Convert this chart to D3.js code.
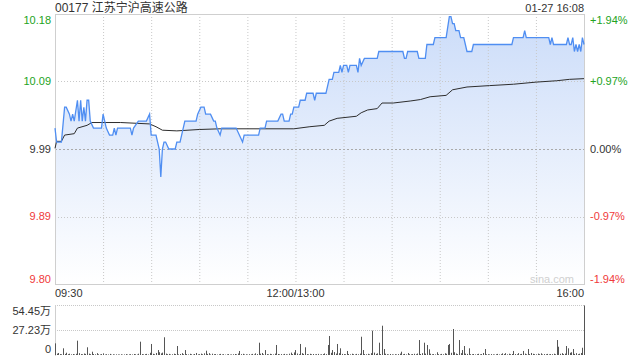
<!DOCTYPE html>
<html>
<head>
<meta charset="utf-8">
<script src="https://cdn.jsdelivr.net/npm/d3@7"></script>
<style>
    body { margin: 0; background: #fff; }
    text { font-family: Arial, "Liberation Sans", "Noto Sans CJK SC", sans-serif; }
</style>
</head>
<body>
<div id="container"></div>
<script>
// ---- data ----
const title = "00177 江苏宁沪高速公路";
const stamp = "01-27 16:08";
const prevClose = 9.99;
const pctRange = 1.94;

const priceTicks = ["10.18", "10.09", "9.99", "9.89", "9.80"];
const pctTicks = [1.94, 0.97, 0, -0.97, -1.94];
const pctLabels = ["+1.94%", "+0.97%", "0.00%", "-0.97%", "-1.94%"];
const timeLabels = ["09:30", "12:00/13:00", "16:00"];
const timeMinutes = [0, 150, 330];
const volTicks = ["54.45万", "27.23万", "0"];
const volMax = 54.45;

// price line vertices (minute from open, price)
const priceMin = [0, 1, 4, 6, 7, 9, 10, 11, 12, 14, 15, 16, 17, 18, 19, 20, 21, 22, 24, 29,
    30, 32, 34, 36, 37, 38, 39, 47, 48, 49, 52, 57, 59, 60, 63, 65, 66, 67, 68, 69,
    71, 75, 76, 78, 79, 81, 88, 89, 91, 93, 94, 97, 99, 100, 101, 103, 104, 113, 115, 117,
    118, 127, 128, 131, 132, 139, 141, 142, 143, 146, 147, 148, 149, 152, 153, 156, 157, 161, 162, 163,
    169, 171, 173, 174, 177, 178, 179, 180, 182, 183, 184, 188, 189, 190, 191, 193, 201, 202, 217, 218,
    219, 220, 226, 227, 231, 232, 236, 237, 244, 246, 247, 248, 249, 250, 252, 253, 255, 256, 257, 260,
    261, 285, 286, 292, 293, 294, 308, 309, 310, 311, 319, 320, 321, 322, 323, 324, 325, 326, 327, 328,
    329, 330];
const priceVal = [10.02, 10.00, 10.00, 10.05, 10.05, 10.04, 10.03, 10.04, 10.03, 10.06, 10.03, 10.06, 10.03, 10.05, 10.03, 10.06, 10.06, 10.03, 10.02, 10.02,
    10.04, 10.02, 10.01, 10.01, 10.02, 10.01, 10.02, 10.02, 10.01, 10.02, 10.03, 10.03, 10.04, 10.01, 10.01, 9.99, 9.95, 9.99, 10.00, 10.00,
    9.99, 9.99, 10.00, 10.00, 10.01, 10.03, 10.03, 10.04, 10.05, 10.05, 10.04, 10.04, 10.03, 10.03, 10.02, 10.01, 10.02, 10.02, 10.01, 10.00,
    10.01, 10.01, 10.02, 10.02, 10.03, 10.03, 10.04, 10.04, 10.03, 10.03, 10.04, 10.04, 10.05, 10.05, 10.06, 10.06, 10.07, 10.07, 10.06, 10.07,
    10.07, 10.09, 10.09, 10.10, 10.10, 10.11, 10.10, 10.11, 10.11, 10.10, 10.11, 10.11, 10.10, 10.12, 10.11, 10.12, 10.12, 10.13, 10.13, 10.12,
    10.12, 10.13, 10.13, 10.12, 10.12, 10.14, 10.14, 10.15, 10.15, 10.18, 10.18, 10.17, 10.17, 10.16, 10.16, 10.15, 10.15, 10.14, 10.13, 10.13,
    10.14, 10.14, 10.15, 10.15, 10.16, 10.15, 10.15, 10.14, 10.15, 10.14, 10.14, 10.15, 10.14, 10.14, 10.15, 10.13, 10.14, 10.13, 10.14, 10.13,
    10.15, 10.14];

// average price line vertices
const avgMin = [0, 1, 4, 6, 12, 14, 20, 23, 41, 59, 63, 67, 76, 90, 103, 149, 159, 168, 171, 176,
    188, 191, 195, 201, 204, 211, 222, 228, 234, 244, 248, 257, 271, 286, 300, 313, 321, 330];
const avgVal = [9.991, 10.001, 10.001, 10.010, 10.012, 10.020, 10.024, 10.028, 10.028, 10.026, 10.022, 10.017, 10.016, 10.018, 10.019, 10.019, 10.022, 10.024, 10.030, 10.034,
    10.037, 10.042, 10.046, 10.048, 10.056, 10.056, 10.059, 10.061, 10.065, 10.067, 10.075, 10.079, 10.081, 10.083, 10.086, 10.088, 10.090, 10.091];

// volume per minute, in 万 shares
const volume = [
    12.7, 1.5, 2.2, 1.0, 0.8, 7.3, 1.2, 2.5, 0.9, 1.4,
    0.7, 1.1, 0.6, 1.3, 15.6, 2.0, 1.0, 0.8, 1.6, 1.2,
    8.4, 1.5, 0.9, 3.6, 1.1, 0.7, 2.0, 0.8, 0.6, 1.0,
    1.8, 0.5, 0.9, 0.6, 1.2, 0.4, 0.8, 0.5, 0.7, 0.6,
    0.5, 0.8, 0.4, 0.6, 1.0, 0.5, 0.7, 0.9, 0.6, 1.1,
    0.8, 0.5, 1.4, 14.5, 1.0, 0.7, 0.9, 1.2, 0.6, 2.4,
    12.0, 1.3, 0.8, 2.2, 5.4, 3.0, 1.8, 2.6, 19.3, 1.5,
    0.9, 1.2, 0.6, 0.8, 1.4, 1.0, 9.8, 0.7, 1.1, 2.0,
    0.9, 5.4, 1.0, 0.6, 1.3, 0.8, 0.5, 1.1, 2.2, 0.7,
    0.9, 1.5, 0.8, 1.8, 4.7, 1.2, 2.0, 0.6, 1.4, 0.9,
    1.0, 0.5, 0.8, 1.2, 0.6, 0.9, 0.4, 0.7, 1.0, 0.5,
    0.6, 0.8, 1.1, 0.7, 1.6, 4.4, 0.9, 1.3, 0.6, 0.8,
    0.5, 0.9, 0.7, 1.2, 0.6, 1.8, 1.0, 13.4, 1.4, 2.2,
    0.8, 5.4, 1.0, 0.7, 1.3, 0.9, 0.6, 1.5, 10.9, 1.1,
    0.7, 1.0, 0.6, 1.2, 0.8, 0.5, 1.4, 2.6, 1.0, 2.8,
    5.4, 1.6, 0.9, 12.0, 2.0, 1.2, 8.4, 1.0, 0.7, 1.3,
    0.8, 1.1, 0.6, 0.9, 1.2, 0.5, 0.8, 1.0, 1.7, 0.9,
    10.9, 20.7, 2.4, 5.4, 3.2, 1.5, 12.0, 2.0, 7.3, 1.2,
    1.0, 0.8, 4.4, 1.1, 0.7, 1.4, 0.9, 0.6, 1.2, 0.8,
    1.5, 19.9, 5.4, 1.0, 0.8, 1.3, 0.7, 2.0, 26.5, 2.6,
    1.2, 1.8, 13.4, 1.0, 31.9, 6.5, 1.4, 0.9, 0.6, 1.1,
    0.7, 0.5, 0.9, 0.6, 1.0, 1.5, 3.6, 0.8, 1.2, 0.6,
    2.2, 0.9, 0.7, 1.0, 1.3, 0.8, 1.6, 16.3, 1.1, 2.0,
    13.4, 1.5, 10.9, 6.2, 1.4, 0.8, 1.0, 0.6, 3.0, 0.9,
    0.7, 1.2, 0.8, 1.9, 1.3, 10.9, 12.0, 2.4, 28.3, 3.0,
    1.6, 1.0, 16.3, 2.0, 5.4, 9.8, 1.5, 1.2, 7.3, 0.9,
    0.8, 1.1, 0.6, 0.9, 1.3, 0.7, 1.0, 2.2, 6.5, 0.8,
    0.9, 0.6, 1.0, 0.7, 0.5, 0.8, 1.2, 0.6, 0.9, 1.8,
    1.0, 2.0, 0.7, 1.4, 0.9, 1.1, 4.4, 1.0, 0.8, 2.0,
    0.9, 1.2, 4.4, 1.5, 0.8, 6.5, 1.0, 2.2, 1.3, 0.9,
    0.7, 1.5, 0.9, 1.8, 0.6, 1.0, 0.8, 1.2, 0.7, 1.0,
    0.9, 1.4, 0.8, 16.3, 9.0, 1.3, 2.0, 1.0, 1.5, 9.8,
    7.3, 2.4, 3.0, 6.5, 1.2, 2.0, 0.9, 1.4, 2.2, 7.9,
    54.0];

// ---- layout ----
const width = 640,
    height = 360,
    plot = { left: 55, right: 584, top: 14, bottom: 284 },
    vol = { top: 305, bottom: 355 };

const green = "#22a322", red = "#f03a3a", dark = "#333";

var svg = d3.select("#container").append("svg")
    .attr("width", width)
    .attr("height", height);

var x = d3.scaleLinear()
    .domain([0, 330])
    .range([plot.left, plot.right]);

var y = d3.scaleLinear()
    .domain([prevClose * (1 - pctRange / 100), prevClose * (1 + pctRange / 100)])
    .range([plot.bottom, plot.top]);

var yv = d3.scaleLinear()
    .domain([0, volMax])
    .range([vol.bottom, vol.top]);

// gradient for the area under the price line
var grad = svg.append("defs").append("linearGradient")
    .attr("id", "fill")
    .attr("gradientUnits", "userSpaceOnUse")
    .attr("x1", 0).attr("x2", 0)
    .attr("y1", plot.top).attr("y2", plot.bottom);
grad.append("stop").attr("offset", "0%").attr("stop-color", "#cbdcf9");
grad.append("stop").attr("offset", "100%").attr("stop-color", "#ffffff");

var pricePts = priceMin.map(function(m, i) { return [m, priceVal[i]]; });
var avgPts = avgMin.map(function(m, i) { return [m, avgVal[i]]; });

svg.append("path")
    .datum(pricePts)
    .attr("fill", "url(#fill)")
    .attr("d", d3.area()
        .x(function(d) { return x(d[0]); })
        .y0(plot.bottom)
        .y1(function(d) { return y(d[1]); }));

// vertical grid, every 30 minutes
svg.append("g")
    .selectAll("line")
    .data(d3.range(30, 330, 30))
    .enter().append("line")
    .attr("x1", function(d) { return x(d) + 0.5; })
    .attr("x2", function(d) { return x(d) + 0.5; })
    .attr("y1", plot.top)
    .attr("y2", plot.bottom)
    .attr("stroke", "#c8c8c8")
    .attr("stroke-dasharray", "1,2");

// horizontal grid
svg.append("g")
    .selectAll("line")
    .data(pctTicks.slice(1, 4))
    .enter().append("line")
    .attr("x1", plot.left)
    .attr("x2", plot.right)
    .attr("y1", function(d) { return Math.round(y(prevClose * (1 + d / 100))) + 0.5; })
    .attr("y2", function(d) { return Math.round(y(prevClose * (1 + d / 100))) + 0.5; })
    .attr("stroke", function(d) { return d === 0 ? "#aaa" : "#c8c8c8"; })
    .attr("stroke-dasharray", function(d) { return d === 0 ? "2,2" : "1,2"; });

// frame
svg.append("rect")
    .attr("x", plot.left + 0.5)
    .attr("y", plot.top + 0.5)
    .attr("width", plot.right - plot.left)
    .attr("height", plot.bottom - plot.top)
    .attr("fill", "none")
    .attr("stroke", "#cfcfcf");

svg.append("text")
    .attr("x", 574)
    .attr("y", 283)
    .attr("text-anchor", "end")
    .attr("font-size", 11)
    .attr("fill", "#d0d0d0")
    .text("sina.com");

// price + average lines
svg.append("path")
    .datum(avgPts)
    .attr("fill", "none")
    .attr("stroke", "#2d2d2d")
    .attr("stroke-width", 1)
    .attr("d", d3.line()
        .x(function(d) { return x(d[0]); })
        .y(function(d) { return y(d[1]); }));

svg.append("path")
    .datum(pricePts)
    .attr("fill", "none")
    .attr("stroke", "#4f8ef2")
    .attr("stroke-width", 1.3)
    .attr("d", d3.line()
        .x(function(d) { return x(d[0]); })
        .y(function(d) { return y(d[1]); }));

// left and right labels
function tickColor(i) {
    return pctTicks[i] > 0 ? green : (pctTicks[i] < 0 ? red : dark);
}
function tickY(i) {
    var yy = y(prevClose * (1 + pctTicks[i] / 100));
    if (i === 0) yy += 6;
    if (i === pctTicks.length - 1) yy -= 5;
    return yy;
}

svg.append("g")
    .selectAll("text")
    .data(priceTicks)
    .enter().append("text")
    .attr("x", 51)
    .attr("y", function(d, i) { return tickY(i); })
    .attr("dy", "0.35em")
    .attr("text-anchor", "end")
    .attr("font-size", 11)
    .attr("fill", function(d, i) { return tickColor(i); })
    .text(function(d) { return d; });

svg.append("g")
    .selectAll("text")
    .data(pctLabels)
    .enter().append("text")
    .attr("x", 590)
    .attr("y", function(d, i) { return tickY(i); })
    .attr("dy", "0.35em")
    .attr("font-size", 11)
    .attr("fill", function(d, i) { return tickColor(i); })
    .text(function(d) { return d; });

// time axis labels
svg.append("g")
    .selectAll("text")
    .data(timeLabels)
    .enter().append("text")
    .attr("x", function(d, i) { return x(timeMinutes[i]); })
    .attr("y", 293)
    .attr("dy", "0.35em")
    .attr("text-anchor", function(d, i) { return i === 0 ? "start" : (i === 1 ? "middle" : "end"); })
    .attr("font-size", 11)
    .attr("fill", dark)
    .text(function(d) { return d; });

// title and time stamp
svg.append("text")
    .attr("x", plot.left)
    .attr("y", 12)
    .attr("font-size", 12)
    .attr("fill", dark)
    .text(title);

svg.append("text")
    .attr("x", plot.right)
    .attr("y", 12)
    .attr("text-anchor", "end")
    .attr("font-size", 11)
    .attr("fill", dark)
    .text(stamp);

// ---- volume panel ----
svg.append("g")
    .selectAll("line")
    .data([volMax, volMax / 2])
    .enter().append("line")
    .attr("x1", plot.left)
    .attr("x2", plot.right)
    .attr("y1", function(d) { return Math.round(yv(d)) + 0.5; })
    .attr("y2", function(d) { return Math.round(yv(d)) + 0.5; })
    .attr("stroke", "#c8c8c8")
    .attr("stroke-dasharray", "1,1");

svg.append("line")
    .attr("x1", plot.left + 0.5)
    .attr("x2", plot.left + 0.5)
    .attr("y1", vol.top)
    .attr("y2", vol.bottom + 1)
    .attr("stroke", "#cfcfcf");

svg.append("g")
    .selectAll("rect")
    .data(volume)
    .enter().append("rect")
    .attr("x", function(d, i) { return Math.round(x(i)); })
    .attr("y", function(d) { return yv(d); })
    .attr("width", 1)
    .attr("height", function(d) { return vol.bottom - yv(d); })
    .attr("fill", "#555");

var volY = [vol.top + 6, yv(volMax / 2), vol.bottom - 6];
svg.append("g")
    .selectAll("text")
    .data(volTicks)
    .enter().append("text")
    .attr("x", 51)
    .attr("y", function(d, i) { return volY[i]; })
    .attr("dy", "0.35em")
    .attr("text-anchor", "end")
    .attr("font-size", 11)
    .attr("fill", dark)
    .text(function(d) { return d; });
</script>
</body>
</html>
